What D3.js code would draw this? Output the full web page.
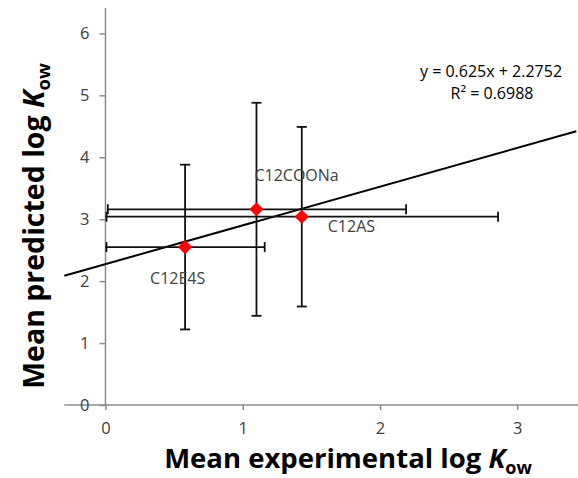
<!DOCTYPE html>
<html>
<head>
<meta charset="utf-8">
<script src="https://cdn.jsdelivr.net/npm/d3@7"></script>
<style>
  html, body { margin: 0; padding: 0; background: #fff; }
  svg { display: block; font-family: "Open Sans", sans-serif; }
</style>
</head>
<body>
<svg id="chart" width="578" height="478"></svg>
<script>
// ---- data ----
const names = ["C12E4S", "C12COONa", "C12AS"];
const xMean = [0.58, 1.10, 1.43];
const yMean = [2.55, 3.16, 3.04];
const xErr = [0.58, 1.09, 1.43];
const yErr = [1.33, 1.72, 1.45];
const xTicks = [0, 1, 2, 3];
const yTicks = [0, 1, 2, 3, 4, 5, 6];
const slope = 0.625;
const intercept = 2.2752;
const eqText = "y = 0.625x + 2.2752";
const r2Text = "R² = 0.6988";

// ---- layout ----
const svg = d3.select("#chart");
const x = d3.scaleLinear().domain([-0.3, 3.43]).range([64.3, 576.3]);
const y = d3.scaleLinear().domain([0, 6.41]).range([405, 8]);
const axisColor = "#8c8c8c";
const textColor = "#404040";

// axes lines
svg.append("line").attr("x1", x(-0.3)).attr("x2", 578).attr("y1", y(0)).attr("y2", y(0))
  .attr("stroke", axisColor).attr("stroke-width", 1.5);
svg.append("line").attr("x1", x(0)).attr("x2", x(0)).attr("y1", y(0)).attr("y2", y(6.41))
  .attr("stroke", axisColor).attr("stroke-width", 1.5);

// y ticks
const yAxis = d3.axisLeft(y).tickValues(yTicks).tickSize(6).tickPadding(10).tickFormat(d3.format("d"));
const gy = svg.append("g").attr("transform", `translate(${x(0)},0)`).call(yAxis);
gy.select(".domain").remove();
gy.selectAll(".tick line").attr("stroke", axisColor).attr("stroke-width", 1.5);
gy.selectAll(".tick text").attr("fill", textColor).style("font-size", "16.5px")
  .style("font-family", "'Open Sans', sans-serif");

// x ticks
const xAxis = d3.axisBottom(x).tickValues(xTicks).tickSize(5).tickPadding(12).tickFormat(d3.format("d"));
const gx = svg.append("g").attr("transform", `translate(0,${y(0)})`).call(xAxis);
gx.select(".domain").remove();
gx.selectAll(".tick line").attr("stroke", axisColor).attr("stroke-width", 1.5);
gx.selectAll(".tick text").attr("fill", textColor).style("font-size", "16.5px")
  .style("font-family", "'Open Sans', sans-serif");

// trend line
const xl0 = -0.3, xl1 = 3.43;
svg.append("line")
  .attr("x1", x(xl0)).attr("y1", y(slope * xl0 + intercept))
  .attr("x2", x(xl1)).attr("y2", y(slope * xl1 + intercept))
  .attr("stroke", "#000").attr("stroke-width", 2);

// error bars
const data = names.map((n, i) => ({ n, x: xMean[i], y: yMean[i], ex: xErr[i], ey: yErr[i] }));
const cap = 5;
const eb = svg.append("g").attr("stroke", "#111").attr("stroke-width", 1.8);
data.forEach(d => {
  // vertical
  eb.append("line").attr("x1", x(d.x)).attr("x2", x(d.x)).attr("y1", y(d.y - d.ey)).attr("y2", y(d.y + d.ey));
  eb.append("line").attr("x1", x(d.x) - cap).attr("x2", x(d.x) + cap).attr("y1", y(d.y + d.ey)).attr("y2", y(d.y + d.ey));
  eb.append("line").attr("x1", x(d.x) - cap).attr("x2", x(d.x) + cap).attr("y1", y(d.y - d.ey)).attr("y2", y(d.y - d.ey));
  // horizontal
  eb.append("line").attr("x1", x(d.x - d.ex)).attr("x2", x(d.x + d.ex)).attr("y1", y(d.y)).attr("y2", y(d.y));
  eb.append("line").attr("x1", x(d.x - d.ex) + 1).attr("x2", x(d.x - d.ex) + 1).attr("y1", y(d.y) - cap).attr("y2", y(d.y) + cap);
  eb.append("line").attr("x1", x(d.x + d.ex)).attr("x2", x(d.x + d.ex)).attr("y1", y(d.y) - cap).attr("y2", y(d.y) + cap);
});

// diamonds
const diamond = d3.symbol().type(d3.symbolSquare).size(100);
svg.append("g").selectAll("path").data(data).join("path")
  .attr("d", diamond)
  .attr("transform", d => `translate(${x(d.x)},${y(d.y)}) rotate(45)`)
  .attr("fill", "#ff0000");

// point labels
const labelOffsets = { "C12E4S": [-35, 37], "C12COONa": [-2, -28], "C12AS": [26, 15] };
svg.append("g").selectAll("text").data(data).join("text")
  .attr("x", d => x(d.x) + labelOffsets[d.n][0])
  .attr("y", d => y(d.y) + labelOffsets[d.n][1])
  .attr("fill", textColor).style("font-size", "16px")
  .text(d => d.n);

// equation
svg.append("text").attr("x", 491).attr("y", 77).attr("text-anchor", "middle")
  .attr("fill", "#000").style("font-size", "16px").text(eqText);
svg.append("text").attr("x", 492).attr("y", 99).attr("text-anchor", "middle")
  .attr("fill", "#000").style("font-size", "16px").text(r2Text);

// axis titles
const xt = svg.append("text").attr("x", 348).attr("y", 468).attr("text-anchor", "middle")
  .attr("fill", "#000").style("font-size", "27.5px").style("font-weight", "bold");
xt.append("tspan").text("Mean experimental log ");
xt.append("tspan").style("font-style", "italic").text("K");
xt.append("tspan").attr("dy", 6).style("font-size", "18px").text("ow");

const yt = svg.append("text").attr("transform", "translate(44,226) rotate(-90)").attr("text-anchor", "middle")
  .attr("fill", "#000").style("font-size", "28.5px").style("font-weight", "bold");
yt.append("tspan").text("Mean predicted log ");
yt.append("tspan").style("font-style", "italic").text("K");
yt.append("tspan").attr("dy", 6).style("font-size", "18.5px").text("ow");
</script>
</body>
</html>
